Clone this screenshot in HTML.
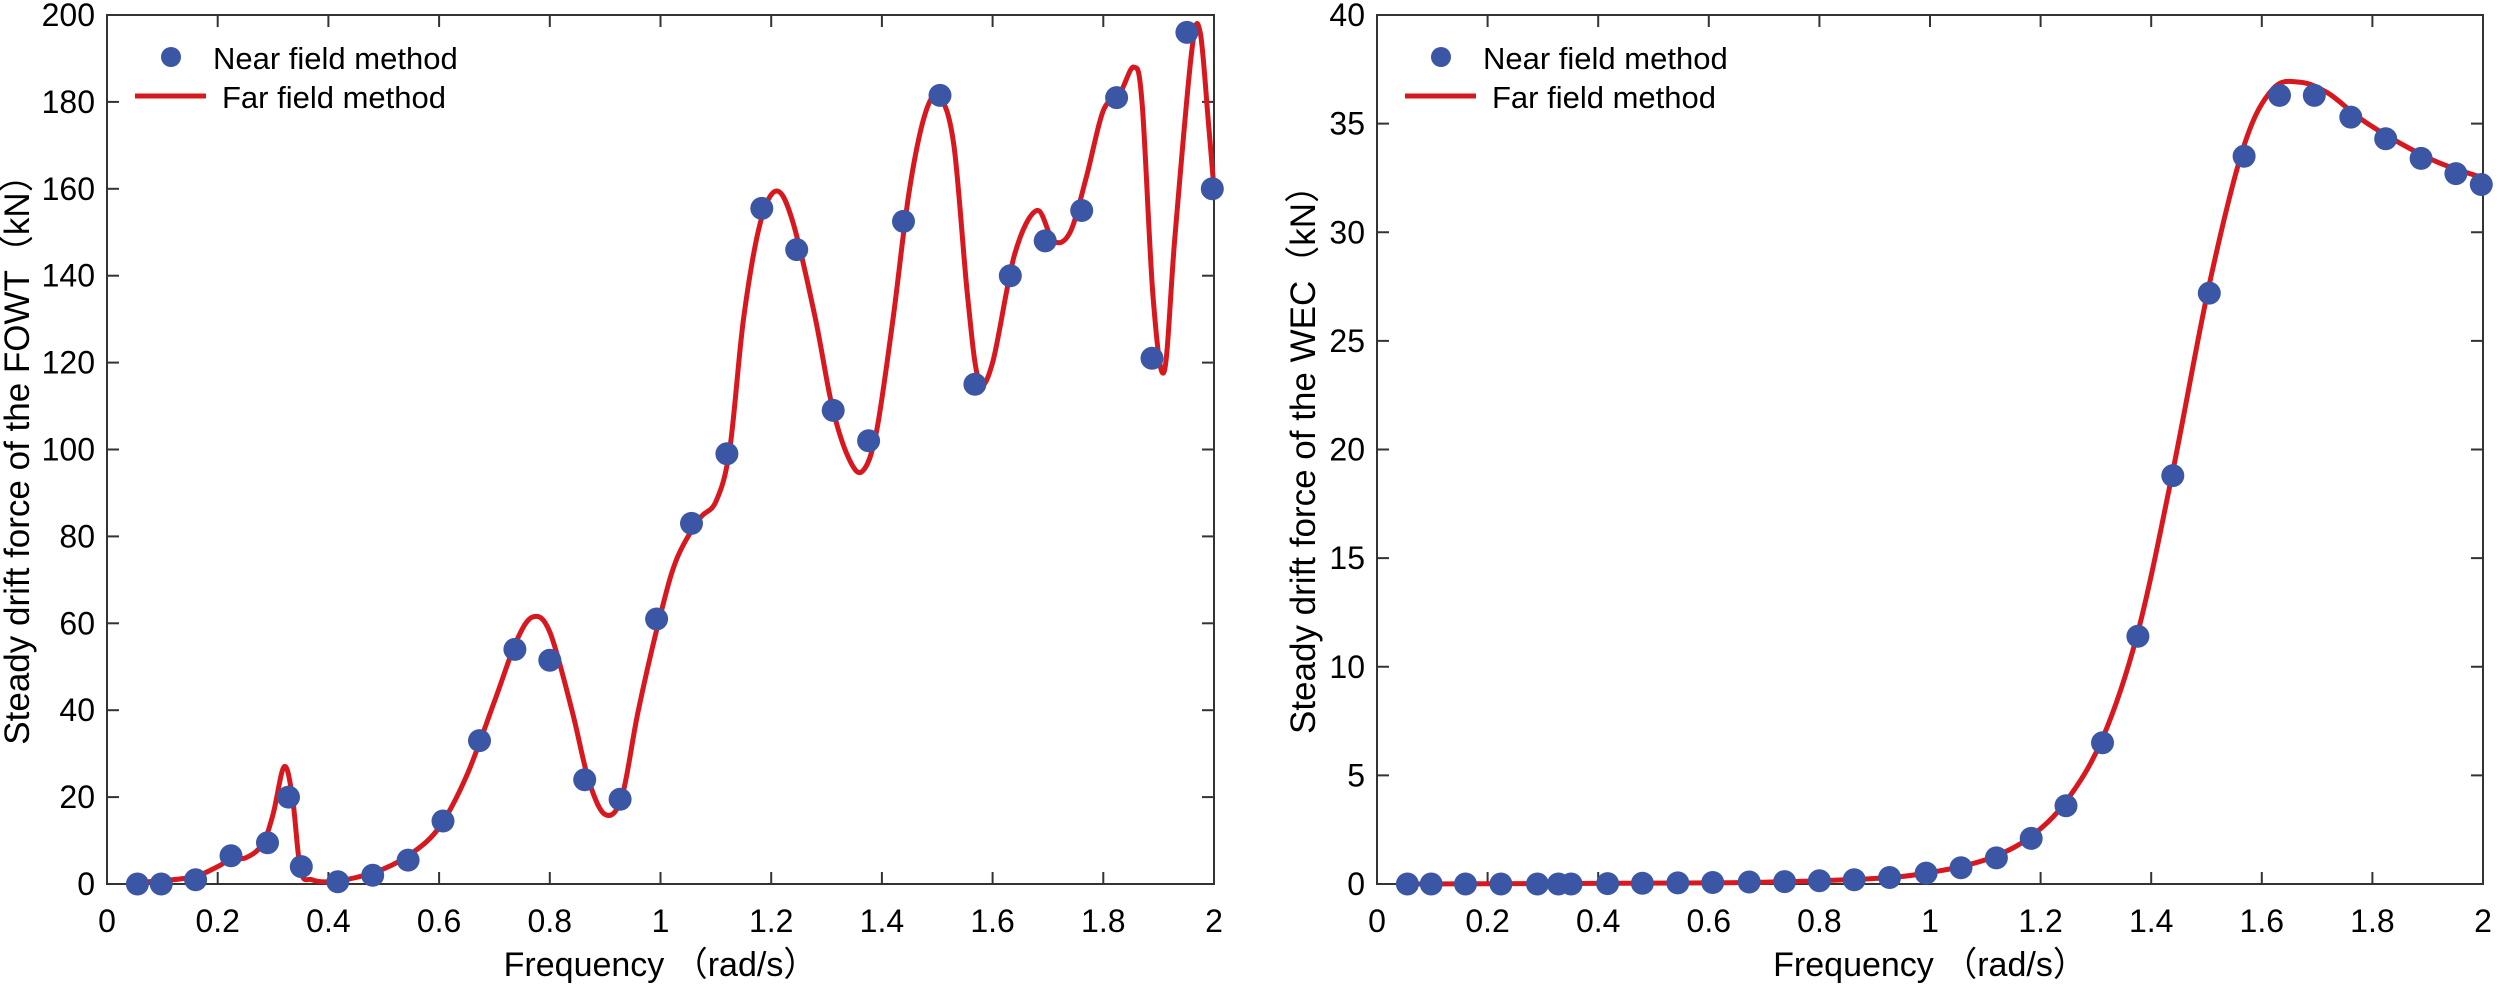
<!DOCTYPE html>
<html><head><meta charset="utf-8"><style>
html,body{margin:0;padding:0;background:#fff;}
svg{display:block;font-family:"Liberation Sans","Noto Sans CJK SC",sans-serif;}
</style></head><body>
<svg id="s" width="2500" height="984" xmlns="http://www.w3.org/2000/svg"></svg>
<script>
const S=document.getElementById('s');let h='';
const F=[0.055,0.098,0.16,0.224,0.29,0.328,0.351,0.417,0.48,0.544,0.607,0.673,0.737,0.8,0.863,0.927,0.993,1.056,1.12,1.183,1.246,1.312,1.376,1.439,1.505,1.568,1.632,1.695,1.761,1.824,1.888,1.951,1.997];
const L=[0,0,1,6.5,9.5,20,4,0.5,2,5.5,14.5,33,54,51.5,24,19.5,61,83,99,155.5,146,109,102,152.5,181.5,115,140,148,155,181,121,196,160];
const R=[0,0,0,0,0,0,0,0.02,0.03,0.05,0.07,0.09,0.11,0.15,0.2,0.3,0.5,0.75,1.2,2.1,3.6,6.5,11.4,18.8,27.2,33.5,36.3,36.3,35.3,34.3,33.4,32.7,32.2];
const LC=[[0.055,0.3],[0.15,1.5],[0.2,4],[0.225,6],[0.25,6],[0.28,9],[0.3,16],[0.32,27],[0.335,20],[0.35,3],[0.37,1],[0.4,0.5],[0.45,1.5],[0.5,3.5],[0.55,7],[0.6,13],[0.65,25],[0.7,42],[0.74,56],[0.77,61.5],[0.8,58],[0.84,40],[0.87,24],[0.9,16],[0.93,20],[0.96,40],[1.0,62],[1.03,75],[1.07,84],[1.1,88],[1.125,100],[1.15,130],[1.18,152],[1.21,159.5],[1.24,152],[1.28,130],[1.31,110],[1.34,98],[1.365,95],[1.39,104],[1.42,130],[1.45,160],[1.48,178],[1.505,181],[1.53,170],[1.555,135],[1.575,116],[1.6,120],[1.64,145],[1.68,155],[1.71,148],[1.74,150],[1.77,163],[1.8,178],[1.83,182],[1.855,188],[1.87,180],[1.89,135],[1.91,118],[1.93,150],[1.96,192],[1.975,196],[1.99,175],[2.0,160]];
const RC=[[0.055,0],[0.6,0.05],[0.8,0.15],[0.93,0.3],[0.993,0.5],[1.056,0.8],[1.12,1.3],[1.183,2.2],[1.246,3.8],[1.312,6.7],[1.376,11.6],[1.439,19],[1.505,27.6],[1.568,34],[1.62,36.6],[1.67,36.9],[1.72,36.4],[1.78,35.2],[1.85,34.1],[1.92,33.2],[2.0,32.5]];
function cr(pts){let d='M'+pts[0][0]+','+pts[0][1];for(let i=0;i<pts.length-1;i++){const p0=pts[i-1]||pts[i],p1=pts[i],p2=pts[i+1],p3=pts[i+2]||p2;const c1=[p1[0]+(p2[0]-p0[0])/6,p1[1]+(p2[1]-p0[1])/6],c2=[p2[0]-(p3[0]-p1[0])/6,p2[1]-(p3[1]-p1[1])/6];d+=`C${c1[0].toFixed(1)},${c1[1].toFixed(1)} ${c2[0].toFixed(1)},${c2[1].toFixed(1)} ${p2[0].toFixed(1)},${p2[1].toFixed(1)}`;}return d;}
function plot(x0,x1,ymax,ystep,pts,curve,ylab,lx){
 const y0=884,yt=15;const X=f=>x0+(x1-x0)*f/2,Y=v=>y0-(y0-yt)*v/ymax;
 h+=`<rect x="${x0}" y="${yt}" width="${x1-x0}" height="${y0-yt}" fill="none" stroke="#333" stroke-width="2"/>`;
 for(let i=0;i<=10;i++){const x=X(i*0.2);h+=`<line x1="${x}" y1="${y0}" x2="${x}" y2="${y0-12}" stroke="#333" stroke-width="2"/><line x1="${x}" y1="${yt}" x2="${x}" y2="${yt+12}" stroke="#333" stroke-width="2"/>`;
 const t=i==0?'0':i==5?'1':i==10?'2':(i*0.2).toFixed(1);h+=`<text x="${x}" y="932" font-size="32" text-anchor="middle">${t}</text>`;}
 for(let v=0;v<=ymax;v+=ystep){const y=Y(v);h+=`<line x1="${x0}" y1="${y}" x2="${x0+12}" y2="${y}" stroke="#333" stroke-width="2"/><line x1="${x1}" y1="${y}" x2="${x1-12}" y2="${y}" stroke="#333" stroke-width="2"/><text x="${x0-12}" y="${y+11}" font-size="32" text-anchor="end">${v}</text>`;}
 h+=`<path d="${cr(curve.map(p=>[X(p[0]),Y(p[1])]))}" fill="none" stroke="#d7191f" stroke-width="5"/>`;
 F.forEach((f,i)=>{h+=`<circle cx="${X(f).toFixed(1)}" cy="${Y(pts[i]).toFixed(1)}" r="11.5" fill="#3a56a5"/>`;});
 h+=`<circle cx="${x0+64}" cy="57" r="10" fill="#3a56a5"/><text x="${x0+106}" y="69" font-size="31">Near field method</text>`;
 h+=`<line x1="${x0+28}" y1="96" x2="${x0+99}" y2="96" stroke="#d7191f" stroke-width="5"/><text x="${x0+115}" y="108" font-size="31">Far field method</text>`;
 h+=`<text x="${(x0+x1)/2}" y="976" font-size="34" text-anchor="middle">Frequency （rad/s）</text>`;
 h+=`<text transform="translate(${lx},451) rotate(-90)" font-size="35" text-anchor="middle">${ylab}</text>`;
}
plot(107,1214,200,20,L,LC,'Steady drift force of the FOWT（kN）',29);
plot(1377,2483,40,5,R,RC,'Steady drift force of the WEC（kN）',1315);
S.innerHTML=h;
</script>
</body></html>
